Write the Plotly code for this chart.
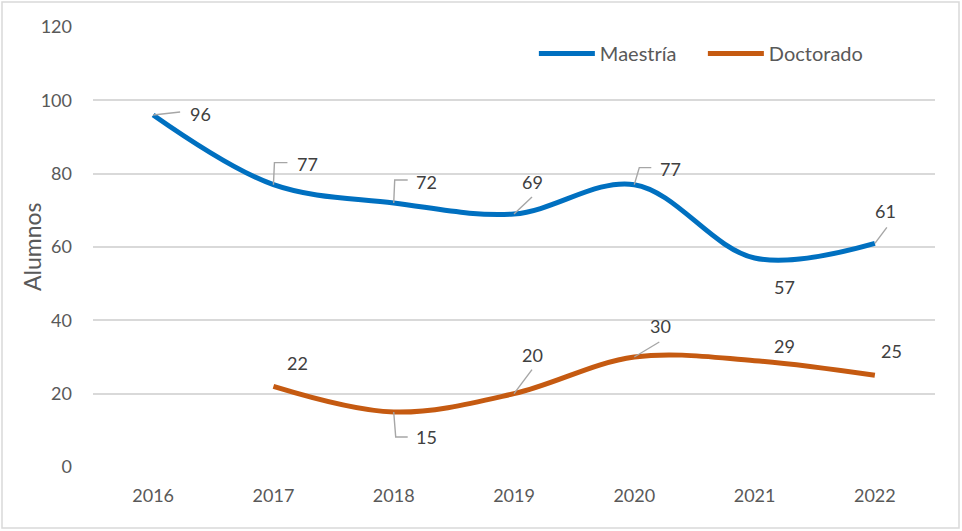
import plotly.graph_objects as go

years = ["2016", "2017", "2018", "2019", "2020", "2021", "2022"]
maestria = [96, 77, 72, 69, 77, 57, 61]
doctorado = [None, 22, 15, 20, 30, 29, 25]
y_ticks = [0, 20, 40, 60, 80, 100, 120]

BLUE = "#0070C0"
ORANGE = "#C55A11"
FONT = "Lato, 'Open Sans', sans-serif"

# data-label placement: (dx, dy) pixel offset of label centre (screen-down), optional leader path (pixels, up positive)
m_lab = [(47, -1, "M0,0 L27,3"), (34, -21, "M0,0 L1,22 L14,22"), (33, -21, "M0,0 L1,23 L14,23"),
         (18, -32, "M0,0 L18,17"), (36, -16, "M0,0 L5,17 L17,17"), (30, 29, None),
         (11, -32, "M0,0 L12,16")]
d_lab = [None, (24, -23, None), (33, 25, "M0,0 L2,-25 L14,-25"), (18, -39, "M0,0 L18,24"),
         (26, -31, "M0,0 L25,15"), (30, -15, None), (17, -24, None)]

fig = go.Figure()
fig.add_trace(go.Scatter(x=years, y=maestria, name="Maestría", mode="lines",
                         line=dict(color=BLUE, width=5, shape="spline", smoothing=1.0)))
fig.add_trace(go.Scatter(x=years, y=doctorado, name="Doctorado", mode="lines",
                         line=dict(color=ORANGE, width=5, shape="spline", smoothing=1.0)))

L, R, T, B = 93, 27, 27, 64
W, H = 962, 531
pw, ph = W - L - R, H - T - B

anns = []
shapes = [dict(type="rect", xref="paper", yref="paper",
               x0=-(L - 2) / pw, x1=1 + (R - 3) / pw,
               y0=-(B - 3) / ph, y1=1 + (T - 2) / ph,
               line=dict(color="#d9d9d9", width=1.5), fillcolor="rgba(0,0,0,0)", layer="below")]

for series, labs in ((maestria, m_lab), (doctorado, d_lab)):
    for i, (v, o) in enumerate(zip(series, labs)):
        if v is None or o is None:
            continue
        dx, dy, path = o
        anns.append(dict(x=i, y=v, xref="x", yref="y", text=str(v), showarrow=False,
                         xshift=dx, yshift=-dy, font=dict(family=FONT, size=18, color="#404040")))
        if path:
            shapes.append(dict(type="path", xref="x", yref="y", xsizemode="pixel", ysizemode="pixel",
                               xanchor=i, yanchor=v, path=path,
                               line=dict(color="#a6a6a6", width=1.4), layer="above"))

anns.append(dict(x=(32 - L) / pw, y=(H - B - 246) / ph, xref="paper", yref="paper",
                 text="Alumnos", textangle=-90, showarrow=False, xanchor="center", yanchor="middle",
                 font=dict(family=FONT, size=23, color="#595959")))

fig.update_layout(
    width=W, height=H,
    margin=dict(l=L, r=R, t=T, b=B),
    paper_bgcolor="white", plot_bgcolor="white",
    font=dict(family=FONT, size=18, color="#595959"),
    showlegend=True,
    legend=dict(orientation="h", x=0.5236, y=0.94, xanchor="left", yanchor="middle",
                bgcolor="rgba(0,0,0,0)", font=dict(family=FONT, size=20, color="#595959"),
                itemwidth=56, entrywidth=98, entrywidthmode="pixels"),
    annotations=anns,
    shapes=shapes,
    xaxis=dict(type="category", range=[-0.5, 6.5], showgrid=False, zeroline=False,
               showline=False, ticks="", ticklabelstandoff=16,
               tickfont=dict(family=FONT, size=18, color="#595959")),
    yaxis=dict(range=[0, 120], tickvals=y_ticks, showgrid=True, gridcolor="#d9d9d9",
               gridwidth=1.5, zeroline=False, showline=False, ticks="",
               ticklabelstandoff=20, tickfont=dict(family=FONT, size=18, color="#595959")),
)

fig.write_html("out.html", config={"displayModeBar": False},
               post_script="document.body.style.margin='0px';")
